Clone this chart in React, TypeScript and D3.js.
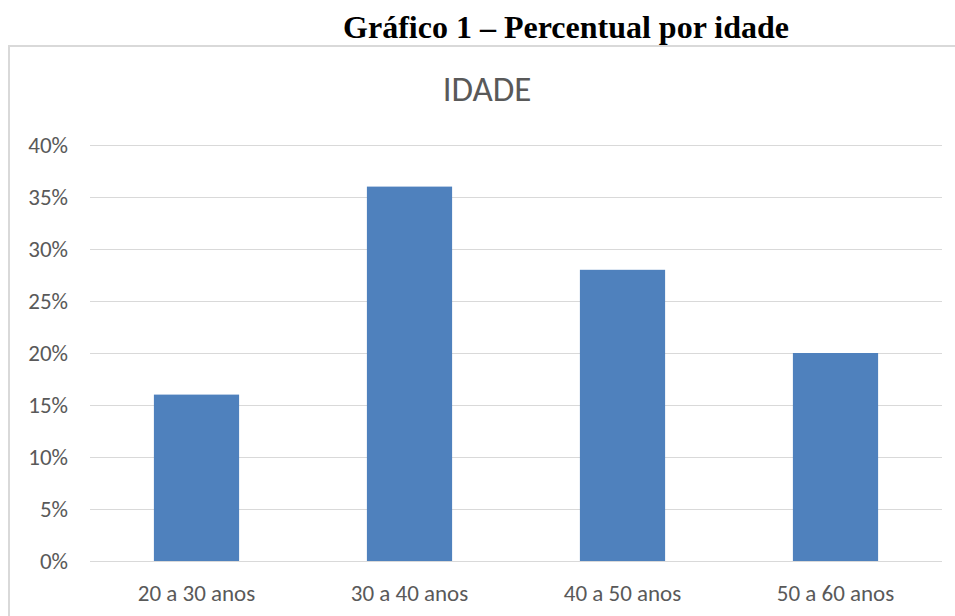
import React, { useRef, useEffect } from 'react';
import * as d3 from 'd3';

const categories = ['20 a 30 anos', '30 a 40 anos', '40 a 50 anos', '50 a 60 anos'];
const values = [0.16, 0.36, 0.28, 0.2];
const yTicks = [0, 0.05, 0.1, 0.15, 0.2, 0.25, 0.3, 0.35, 0.4];

const App: React.FC = () => {
  const ref = useRef<SVGSVGElement | null>(null);

  useEffect(() => {
    if (!ref.current) return;
    const svg = d3.select(ref.current);
    svg.selectAll('*').remove();

    const width = 955;
    const height = 616;
    const left = 90;
    const right = 942;
    const top = 145;
    const bottom = 561;
    const font = "Carlito, Lato, 'Open Sans', 'Liberation Sans', sans-serif";

    svg.append('rect').attr('width', width).attr('height', height).attr('fill', '#fff');

    // Outer heading
    svg.append('text')
      .attr('x', 566)
      .attr('y', 38)
      .attr('text-anchor', 'middle')
      .attr('font-family', "'Liberation Serif', 'Times New Roman', serif")
      .attr('font-weight', 'bold')
      .attr('font-size', 32)
      .attr('fill', '#000')
      .text('Gráfico 1 – Percentual por idade');

    // chart frame
    svg.append('rect')
      .attr('x', 9)
      .attr('y', 46)
      .attr('width', 960)
      .attr('height', 600)
      .attr('fill', 'none')
      .attr('stroke', '#d9d9d9')
      .attr('stroke-width', 2);

    svg.append('text')
      .attr('x', 487)
      .attr('y', 101)
      .attr('text-anchor', 'middle')
      .attr('font-family', font)
      .attr('font-size', 35)
      .attr('fill', '#595959')
      .text('IDADE');

    const x = d3.scaleBand<string>()
      .domain(categories)
      .range([left, right])
      .paddingInner(0.6)
      .paddingOuter(0.3);

    const y = d3.scaleLinear().domain([0, 0.4]).range([bottom, top]);

    const g = svg.append('g');

    g.selectAll('line.grid')
      .data(yTicks)
      .join('line')
      .attr('class', 'grid')
      .attr('x1', left)
      .attr('x2', right)
      .attr('y1', d => Math.round(y(d)) + 0.5)
      .attr('y2', d => Math.round(y(d)) + 0.5)
      .attr('stroke', '#d9d9d9')
      .attr('stroke-width', 1);

    g.selectAll('text.ytick')
      .data(yTicks)
      .join('text')
      .attr('class', 'ytick')
      .attr('x', 68)
      .attr('y', d => y(d) + 8)
      .attr('text-anchor', 'end')
      .attr('font-family', font)
      .attr('font-size', 23)
      .attr('fill', '#595959')
      .text(d => d3.format('.0%')(d));

    g.selectAll('rect.bar')
      .data(values)
      .join('rect')
      .attr('class', 'bar')
      .attr('x', (d, i) => x(categories[i]) || 0)
      .attr('y', d => y(d))
      .attr('width', x.bandwidth())
      .attr('height', d => bottom - y(d))
      .attr('fill', '#4f81bd');

    g.selectAll('text.xtick')
      .data(categories)
      .join('text')
      .attr('class', 'xtick')
      .attr('x', d => (x(d) || 0) + x.bandwidth() / 2)
      .attr('y', 601)
      .attr('text-anchor', 'middle')
      .attr('font-family', font)
      .attr('font-size', 23)
      .attr('fill', '#595959')
      .text(d => d);
  }, []);

  return (
    <svg
      ref={ref}
      width={955}
      height={616}
      style={{ position: 'absolute', left: 0, top: 0, display: 'block' }}
    />
  );
};

export default App;
